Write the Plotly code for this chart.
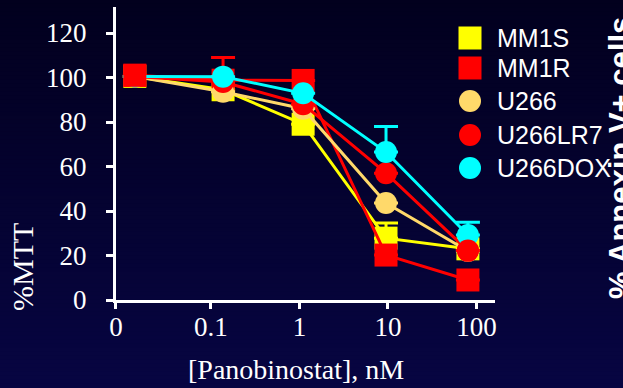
import plotly.graph_objects as go

# ---- data -------------------------------------------------------------
doses = [0, 0.137, 1.1, 9.5, 80]          # nM panobinostat
tick_doses = [0, 0.1, 1, 10, 100]
tick_labels = ["0", "0.1", "1", "10", "100"]

# the untreated control (0 nM) is placed at a fixed spot on the log axis
ZERO_POINT = 0.0138
ZERO_TICK = 0.00845

names = ["MM1S", "MM1R", "U266", "U266LR7", "U266DOX"]
mm1s = [100.5, 94.5, 79.0, 27.8, 23.0]
mm1r = [101.0, 98.8, 98.7, 20.2, 9.0]
u266 = [100.5, 93.6, 86.0, 43.6, 22.0]
u266lr7 = [100.5, 98.0, 88.0, 57.0, 22.2]
u266dox = [100.5, 100.4, 92.9, 66.5, 29.2]

mm1s_sd = [0, 0, 0, 6.8, 0]
mm1r_sd = [0, 10.2, 0, 0, 0]
u266_sd = [0, 0, 0, 0, 0]
u266lr7_sd = [0, 0, 0, 0, 0]
u266dox_sd = [0, 0, 0, 11.5, 5.8]

values = [mm1s, mm1r, u266, u266lr7, u266dox]
errors = [mm1s_sd, mm1r_sd, u266_sd, u266lr7_sd, u266dox_sd]
colors = ["#FFFF00", "#FF0000", "#FFD96A", "#FF0000", "#00FFFF"]
symbols = ["square", "square", "circle", "circle", "circle"]

# points whose symbols sit on top of everything else: (series, dose index)
front_points = [(1, 0), (3, 4)]

# ---- figure -----------------------------------------------------------
W, H = 623, 388
SERIF = "Liberation Serif, Times New Roman, serif"
SANS = "Liberation Sans, Arial, sans-serif"


def xpos(d):
    return ZERO_POINT if d == 0 else d


xs = [xpos(d) for d in doses]

fig = go.Figure()

for name, ys, err, col, sym in zip(names, values, errors, colors, symbols):
    fig.add_trace(go.Scatter(
        x=xs, y=ys, name=name, mode="lines+markers",
        line=dict(color=col, width=3),
        marker=dict(symbol=sym, size=23 if sym == "square" else 22, color=col,
                    line=dict(width=0)),
        error_y=dict(type="data", symmetric=False, array=err,
                     arrayminus=[0] * len(err), color=col, thickness=3, width=12),
        showlegend=False,
    ))

for si, di in front_points:
    fig.add_trace(go.Scatter(
        x=[xs[di]], y=[values[si][di]], mode="markers",
        marker=dict(symbol=symbols[si], size=23 if symbols[si] == "square" else 22,
                    color=colors[si], line=dict(width=0)),
        showlegend=False, hoverinfo="skip",
    ))

# legend drawn in pixel space on an overlay axis pair
legend_rows = [38, 68, 101, 135, 168]
for name, col, sym, yy in zip(names, colors, symbols, legend_rows):
    fig.add_trace(go.Scatter(
        x=[470], y=[yy], xaxis="x2", yaxis="y2", mode="markers",
        marker=dict(symbol=sym, size=23 if sym == "square" else 22, color=col,
                    line=dict(width=0)),
        showlegend=False, hoverinfo="skip",
    ))
    fig.add_annotation(x=495, y=yy, xref="x2", yref="y2", text=name,
                       showarrow=False, xanchor="left", yanchor="middle",
                       font=dict(family=SANS, size=25, color="white"))

# vertical background gradient
n_bands = 97
top = (2, 0, 30)
bot = (7, 5, 66)
for i in range(n_bands):
    t = i / (n_bands - 1)
    c = tuple(round(a + (b - a) * t) for a, b in zip(top, bot))
    fig.add_shape(type="rect", xref="paper", yref="paper", layer="below",
                  x0=0, x1=1, y0=1 - (i + 1) / n_bands, y1=1 - i / n_bands + 0.002,
                  line=dict(width=0), fillcolor="rgb(%d,%d,%d)" % c)

axis_common = dict(showgrid=False, zeroline=False, showline=True, linecolor="white",
                   linewidth=3, ticks="outside", tickcolor="white", tickwidth=3,
                   tickfont=dict(family=SERIF, size=27, color="white"),
                   automargin=False)

fig.update_layout(
    width=W, height=H,
    margin=dict(l=0, r=0, t=0, b=0),
    paper_bgcolor="rgb(2,0,30)",
    plot_bgcolor="rgba(0,0,0,0)",
    xaxis=dict(type="log", domain=[116 / W, 495 / W], range=[-2.073, 2.209],
               tickvals=[ZERO_TICK if t == 0 else t for t in tick_doses],
               ticktext=tick_labels, ticklen=6, ticklabelstandoff=-5,
               **axis_common),
    yaxis=dict(domain=[1 - 300 / H, 1 - 7 / H], range=[0, 131.7],
               tickvals=[0, 20, 40, 60, 80, 100, 120], ticklen=7,
               ticklabelstandoff=14, **axis_common),
    xaxis2=dict(domain=[0, 1], range=[0, W], anchor="y2", visible=False,
                fixedrange=True),
    yaxis2=dict(domain=[0, 1], range=[H, 0], anchor="x2", visible=False,
                fixedrange=True),
    showlegend=False,
)

fig.add_annotation(x=22 / W, y=1 - 267 / H, xref="paper", yref="paper",
                   text="%MTT", textangle=-90, showarrow=False,
                   xanchor="center", yanchor="middle",
                   font=dict(family=SERIF, size=30, color="white"))
fig.add_annotation(x=296 / W, y=1 - 369 / H, xref="paper", yref="paper",
                   text="[Panobinostat], nM", showarrow=False,
                   xanchor="center", yanchor="middle",
                   font=dict(family=SERIF, size=28, color="white"))
fig.add_annotation(x=620 / W, y=1 - 158 / H, xref="paper", yref="paper",
                   text="<b>% Annexin V+ cells</b>", textangle=-90, showarrow=False,
                   xanchor="center", yanchor="middle",
                   font=dict(family=SANS, size=31, color="white"))

fig.write_html("out.html")
